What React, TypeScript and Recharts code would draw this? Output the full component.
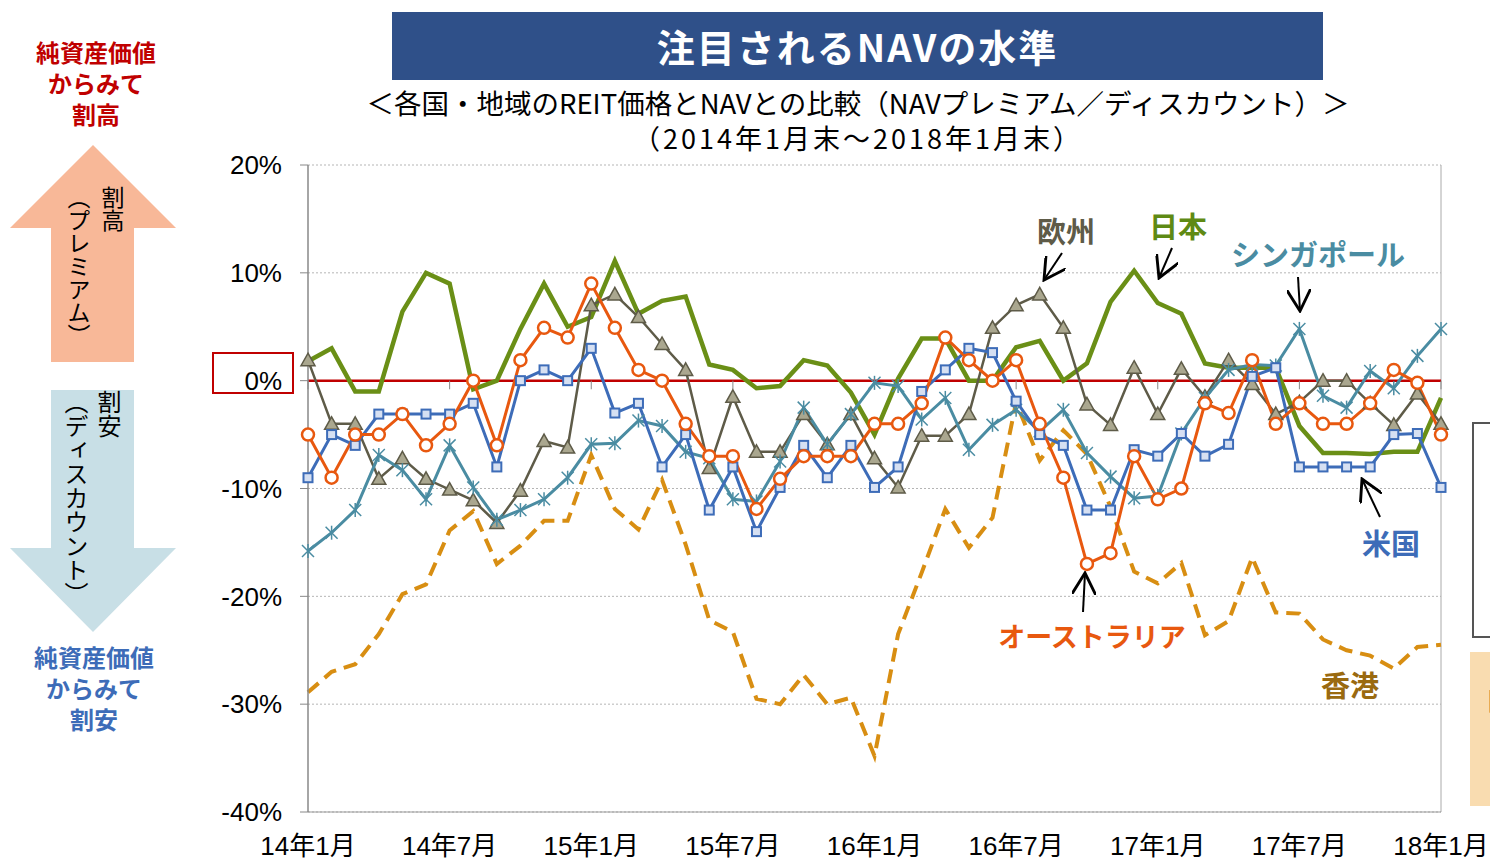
import React from 'react';
import { LineChart, Line, XAxis, YAxis, CartesianGrid, ReferenceLine } from 'recharts';

// 14年1月 .. 18年1月 (monthly, 49 points)
const years = [14, 15, 16, 17, 18];
const months = years.flatMap(y => Array.from({ length: 12 }, (_, i) => `${y}年${i + 1}月`)).slice(0, 49);
const xTicks = ['14年1月', '14年7月', '15年1月', '15年7月', '16年1月', '16年7月', '17年1月', '17年7月', '18年1月'];
const yTicks = [-40, -30, -20, -10, 0, 10, 20];

const japan = [1.8, 3.0, -1.0, -1.0, 6.4, 10.0, 9.0, -0.8, 0, 4.8, 9.0, 5.0, 5.9,
  11.1, 6.2, 7.4, 7.8, 1.5, 1.0, -0.7, -0.5, 1.9, 1.4, -1.1, -5.0,
  0.2, 3.9, 3.9, 0, 0, 3.1, 3.7, 0, 1.6, 7.3, 10.2, 7.2,
  6.2, 1.6, 1.2, 1.2, 1.2, -4.2, -6.7, -6.7, -6.8, -6.6, -6.6, -1.6];
const europe = [1.9, -4.0, -4.0, -9.1, -7.2, -9.1, -10.1, -11.1, -13.2, -10.2, -5.6, -6.2, 7.0,
  8.0, 5.9, 3.4, 1.0, -8.1, -1.5, -6.6, -6.6, -3.1, -5.9, -3.1, -7.2,
  -9.9, -5.1, -5.1, -3.1, 4.9, 7.0, 8.0, 4.9, -2.2, -4.1, 1.2, -3.1,
  1.1, -1.5, 1.9, -0.3, -3.1, -2.0, 0, 0, -2.1, -4.1, -1.2, -4.0];
const singapore = [-15.8, -14.1, -12.0, -6.9, -8.3, -11.0, -6.0, -9.9, -12.9, -12.0, -11.0, -9.0, -5.9,
  -5.8, -3.7, -4.2, -6.6, -7.2, -11.0, -11.2, -7.5, -2.5, -5.9, -3.1, -0.2,
  -0.5, -3.6, -1.6, -6.4, -4.1, -2.7, -4.7, -2.7, -6.7, -8.9, -10.9, -10.7,
  -4.9, -1.6, 1.0, 1.5, 1.4, 4.8, -1.4, -2.5, 0.9, -0.7, 2.3, 4.8];
const usa = [-9.0, -5.0, -6.0, -3.1, -3.1, -3.1, -3.1, -2.1, -8.0, 0, 1.0, 0, 3.0,
  -3.0, -2.1, -8.0, -5.0, -12.0, -8.0, -14.0, -9.9, -6.0, -9.0, -6.0, -9.9,
  -8.0, -1.0, 1.0, 3.0, 2.6, -1.9, -5.0, -6.0, -12.0, -12.0, -6.4, -7.0,
  -4.9, -7.0, -5.9, 0.4, 1.2, -8.0, -8.0, -8.0, -8.0, -5.0, -4.9, -9.9];
const australia = [-5.0, -9.0, -5.0, -5.0, -3.1, -6.0, -4.0, 0, -6.0, 1.9, 4.9, 4.0, 9.0,
  4.9, 1.0, 0, -4.0, -7.0, -7.0, -11.9, -9.1, -7.0, -7.0, -7.0, -4.0,
  -4.0, -2.1, 4.0, 1.9, 0, 1.9, -4.0, -9.0, -17.0, -16.0, -7.0, -11.0,
  -10.0, -2.1, -3.0, 1.9, -4.0, -2.1, -4.0, -4.0, -2.1, 1.0, -0.2, -5.0];
const hongkong = [-28.9, -27.0, -26.3, -23.5, -19.8, -18.9, -13.9, -12.1, -17.0, -15.3, -13.0, -13.0, -6.9,
  -11.9, -13.8, -9.2, -15.2, -22.2, -23.3, -29.5, -30.0, -27.3, -30.0, -29.4, -34.8,
  -23.5, -17.8, -11.9, -15.5, -12.7, -2.0, -7.4, -4.6, -6.8, -11.7, -17.7, -18.8,
  -16.9, -23.6, -22.3, -16.4, -21.5, -21.6, -24.0, -25.0, -25.5, -26.7, -24.7, -24.5];

const data = months.map((m, i) => ({
  m,
  japan: japan[i],
  europe: europe[i],
  singapore: singapore[i],
  usa: usa[i],
  australia: australia[i],
  hongkong: hongkong[i],
}));

const C = {
  japan: '#6a8f16',
  europe: '#5e5b48',
  europeFill: '#aaa78f',
  singapore: '#4a8ca2',
  usa: '#3d6cb8',
  usaFill: '#d6e0f2',
  australia: '#e8580f',
  hongkong: '#d88e12',
  red: '#c00000',
};

const FONT = "'Liberation Sans', 'Noto Sans CJK JP', sans-serif";
const JP = "'Noto Sans CJK JP', sans-serif";

const Triangle = (p: any) => {
  const { cx, cy, index } = p;
  if (cx == null || cy == null) return <g key={`t${index}`} />;
  return (
    <polygon key={`t${index}`} points={`${cx},${cy - 7} ${cx + 7},${cy + 5.5} ${cx - 7},${cy + 5.5}`}
      fill={C.europeFill} stroke={C.europe} strokeWidth={1.5} />
  );
};
const Star = (p: any) => {
  const { cx, cy, index } = p;
  if (cx == null || cy == null) return <g key={`s${index}`} />;
  const r = 6;
  return (
    <g key={`s${index}`} stroke={C.singapore} strokeWidth={1.5}>
      <line x1={cx - r} y1={cy - r} x2={cx + r} y2={cy + r} />
      <line x1={cx - r} y1={cy + r} x2={cx + r} y2={cy - r} />
      <line x1={cx} y1={cy - r - 1} x2={cx} y2={cy + r + 1} />
    </g>
  );
};
const Square = (p: any) => {
  const { cx, cy, index } = p;
  if (cx == null || cy == null) return <g key={`q${index}`} />;
  return <rect key={`q${index}`} x={cx - 4.5} y={cy - 4.5} width={9} height={9} fill={C.usaFill} stroke={C.usa} strokeWidth={2} />;
};
const Circle = (p: any) => {
  const { cx, cy, index } = p;
  if (cx == null || cy == null) return <g key={`c${index}`} />;
  return <circle key={`c${index}`} cx={cx} cy={cy} r={6} fill="#fff" stroke={C.australia} strokeWidth={2.5} />;
};

const abs = (l: number, t: number, extra: React.CSSProperties = {}): React.CSSProperties => ({
  position: 'absolute', left: l, top: t, ...extra,
});

const label = (text: string, cx: number, cy: number, color: string, size = 29) => (
  <div style={abs(cx - 150, cy - size * 0.7, {
    width: 300, textAlign: 'center', color, fontFamily: JP, fontWeight: 700, fontSize: size, lineHeight: `${size * 1.4}px`,
  })}>{text}</div>
);

const sideLine = (text: string, cx: number, cy: number, color: string) => (
  <div style={abs(cx - 100, cy - 13, {
    width: 200, height: 26, textAlign: 'center', color, fontFamily: JP, fontWeight: 700, fontSize: 24, lineHeight: '26px',
  })}>{text}</div>
);

export default function App() {
  return (
    <div style={{ position: 'absolute', left: 0, top: 0, width: 1490, height: 862, background: '#fff', overflow: 'hidden' }}>
      <LineChart width={1490} height={862} data={data}
        margin={{ top: 165, right: 49, bottom: 0, left: 228 }} style={{ fontFamily: FONT }}>
        <CartesianGrid vertical={false} stroke="#b5b5b5" strokeDasharray="2 2" />
        <XAxis dataKey="m" interval={5} height={50} tickLine={false} axisLine={{ stroke: '#999' }}
          tick={{ fontSize: 26, fill: '#000' }} tickMargin={19} />
        <YAxis domain={[-40, 20]} ticks={yTicks} width={80} tickFormatter={(v: number) => `${v}%`}
          axisLine={{ stroke: '#888', strokeWidth: 1.5 }} tickLine={{ stroke: '#888' }} tickSize={8} tickMargin={18}
          tick={{ fontSize: 26, fill: '#000' }} />
        <ReferenceLine x={months[48]} stroke="#aaa" />
        <ReferenceLine y={0} stroke={C.red} strokeWidth={2.5} />
        {xTicks.map(t => (
          <ReferenceLine key={t} segment={[{ x: t, y: 0 }, { x: t, y: -0.8 }]} stroke="#888" />
        ))}
        <Line dataKey="hongkong" stroke={C.hongkong} strokeWidth={4} strokeDasharray="14 8" dot={false} isAnimationActive={false} />
        <Line dataKey="japan" stroke={C.japan} strokeWidth={4.5} dot={false} isAnimationActive={false} />
        <Line dataKey="europe" stroke={C.europe} strokeWidth={2.5} dot={Triangle} isAnimationActive={false} />
        <Line dataKey="singapore" stroke={C.singapore} strokeWidth={3} dot={Star} isAnimationActive={false} />
        <Line dataKey="usa" stroke={C.usa} strokeWidth={3} dot={Square} isAnimationActive={false} />
        <Line dataKey="australia" stroke={C.australia} strokeWidth={3} dot={Circle} isAnimationActive={false} />
      </LineChart>

      {/* title */}
      <div style={abs(392, 12, {
        width: 931, height: 68, background: '#2f5089', color: '#fff', fontFamily: JP, fontWeight: 700,
        fontSize: 38, lineHeight: '68px', textAlign: 'center', letterSpacing: 2,
      })}>注目されるNAVの水準</div>
      <div style={abs(208, 84, { width: 1300, textAlign: 'center', fontFamily: JP, fontSize: 27.5, lineHeight: '36px', color: '#000', whiteSpace: 'nowrap' })}>
        ＜各国・地域のREIT価格とNAVとの比較（NAVプレミアム／ディスカウント）＞
      </div>
      <div style={abs(258, 120, { width: 1200, textAlign: 'center', fontFamily: JP, fontSize: 27, lineHeight: '36px', color: '#000', letterSpacing: 3 })}>
        （2014年1月末～2018年1月末）
      </div>

      {/* left side explanation */}
      {sideLine('純資産価値', 96, 52, C.red)}
      {sideLine('からみて', 96, 83, C.red)}
      {sideLine('割高', 96, 114, C.red)}
      {sideLine('純資産価値', 94, 657, '#3d6cb8')}
      {sideLine('からみて', 94, 688, '#3d6cb8')}
      {sideLine('割安', 94, 719, '#3d6cb8')}
      <svg width={190} height={640} style={abs(0, 0)}>
        <polygon points="93,145 176,228 134,228 134,362 51,362 51,228 10,228" fill="#f8b898" />
        <polygon points="51,390 134,390 134,548 176,548 93,632 10,548 51,548" fill="#c8dfe6" />
      </svg>
      <div style={abs(62, 186, { writingMode: 'vertical-rl', height: 170, fontFamily: JP, fontSize: 23, lineHeight: '34px', color: '#000' })}>
        割高<br />（プレミアム）
      </div>
      <div style={abs(60, 390, { writingMode: 'vertical-rl', height: 230, fontFamily: JP, fontSize: 24, lineHeight: '33px', color: '#000' })}>
        割安<br />（ディスカウント）
      </div>
      <div style={abs(212, 352, { width: 82, height: 42, border: `2px solid ${C.red}`, boxSizing: 'border-box' })} />

      {/* series labels */}
      {label('欧州', 1066, 230, C.europe)}
      {label('日本', 1178, 225, '#5f8a14')}
      {label('シンガポール', 1318, 253, C.singapore)}
      {label('米国', 1391, 542, C.usa)}
      {label('オーストラリア', 1092, 636, C.australia, 27)}
      {label('香港', 1350, 684, '#9a6a10')}
      <svg width={1490} height={862} style={abs(0, 0, { pointerEvents: 'none' })}>
        <defs>
          <marker id="ah" viewBox="0 0 10 10" refX="9" refY="5" markerWidth="12" markerHeight="12" orient="auto-start-reverse">
            <path d="M0,0 L9,5 L0,10" fill="none" stroke="#000" strokeWidth={1.2} />
          </marker>
        </defs>
        <g stroke="#000" strokeWidth={2} markerEnd="url(#ah)">
          <line x1={1062} y1={253} x2={1044} y2={280} />
          <line x1={1172} y1={248} x2={1159} y2={278} />
          <line x1={1298} y1={277} x2={1300} y2={311} />
          <line x1={1380} y1={517} x2={1362} y2={479} />
          <line x1={1083} y1={612} x2={1085} y2={573} />
        </g>
      </svg>

      {/* cut-off panels on the right */}
      <div style={abs(1472, 422, { width: 40, height: 216, border: '2px solid #555', boxSizing: 'border-box' })} />
      <div style={abs(1470, 652, { width: 40, height: 154, background: '#f9dcb0' })} />
      <div style={abs(1474, 682, { fontFamily: JP, fontWeight: 700, fontSize: 24, color: '#000' })}>【</div>
    </div>
  );
}
